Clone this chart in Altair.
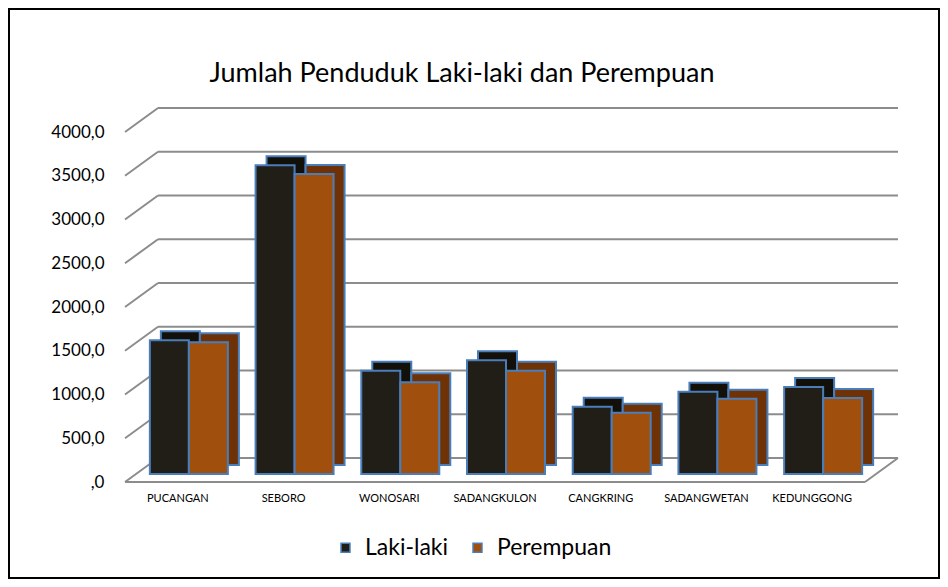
import altair as alt
import pandas as pd

categories = ["PUCANGAN", "SEBORO", "WONOSARI", "SADANGKULON", "CANGKRING", "SADANGWETAN", "KEDUNGGONG"]
laki = [1530, 3530, 1180, 1300, 770, 940, 995]
perempuan = [1505, 3430, 1050, 1180, 700, 860, 870]
series = ["Laki-laki", "Perempuan"]
y_ticks = [0, 500, 1000, 1500, 2000, 2500, 3000, 3500, 4000]
title_text = "Jumlah Penduduk Laki-laki dan Perempuan"

rows = []
for c, l, p in zip(categories, laki, perempuan):
    rows.append({"wilayah": c, "jenis": "Laki-laki", "jumlah": l})
    rows.append({"wilayah": c, "jenis": "Perempuan", "jumlah": p})
df = pd.DataFrame(rows)
grid = pd.DataFrame({"v": y_ticks})
floor = pd.DataFrame({"v": [0]})
title_df = pd.DataFrame({"t": [title_text]})

W, H = 740, 350
FONT = "Lato"
BLUE = "#4a7ebb"
GRID = "#8c8c8c"
front_colors = ["#201e16", "#a0500c"]
depth_colors = ["#121008", "#6e3206"]

yscale = alt.Scale(domain=[0, 4000], nice=False, zero=True)
xscale = alt.Scale(domain=categories, paddingInner=0.26, paddingOuter=0.13)

yaxis = alt.Axis(
    values=y_ticks, title=None, grid=False, domain=False, ticks=False,
    labelFont=FONT, labelFontSize=17, labelColor="#000000", labelPadding=32, labelOffset=8,
    labelExpr="datum.value == 0 ? ',0' : replace(format(datum.value, '.1f'), '.', ',')",
)
xaxis = alt.Axis(
    title=None, grid=False, domain=False, ticks=False, labelAngle=0,
    labelFont=FONT, labelFontSize=11, labelColor="#000000", labelPadding=18, labelOffset=-11,
)

back = alt.Chart(grid).mark_rule(color=GRID, strokeWidth=2, yOffset=-16).encode(
    y=alt.Y("v:Q", scale=yscale, axis=yaxis),
    x=alt.value(22), x2=alt.value(W + 22),
)
diag = alt.Chart(grid).mark_rule(color=GRID, strokeWidth=2, yOffset=8, y2Offset=-16).encode(
    y=alt.Y("v:Q", scale=yscale), y2="v:Q",
    x=alt.value(-11), x2=alt.value(22),
)
floor_front = alt.Chart(floor).mark_rule(color=GRID, strokeWidth=2, yOffset=8).encode(
    y=alt.Y("v:Q", scale=yscale),
    x=alt.value(-11), x2=alt.value(W - 11),
)
floor_right = alt.Chart(floor).mark_rule(color=GRID, strokeWidth=2, yOffset=8, y2Offset=-16).encode(
    y=alt.Y("v:Q", scale=yscale), y2="v:Q",
    x=alt.value(W - 11), x2=alt.value(W + 22),
)

BW = 39
DX, DY = 11, -9
offsets = {"Laki-laki": -BW / 2, "Perempuan": BW / 2}

layers = [back, diag, floor_front, floor_right]
for s, dc in zip(series, depth_colors):
    layers.append(
        alt.Chart(df).transform_filter(alt.datum.jenis == s).mark_bar(
            width=BW, xOffset=offsets[s] + DX, yOffset=DY, y2Offset=DY,
            fill=dc, stroke=BLUE, strokeWidth=2,
        ).encode(
            x=alt.X("wilayah:N", scale=xscale, sort=categories, axis=xaxis),
            y=alt.Y("jumlah:Q", scale=yscale),
        )
    )
for s in series:
    layers.append(
        alt.Chart(df).transform_filter(alt.datum.jenis == s).mark_bar(
            width=BW, xOffset=offsets[s], stroke=BLUE, strokeWidth=2,
        ).encode(
            x=alt.X("wilayah:N", scale=xscale, sort=categories, axis=xaxis),
            y=alt.Y("jumlah:Q", scale=yscale),
            color=alt.Color(
                "jenis:N",
                scale=alt.Scale(domain=series, range=front_colors),
                legend=alt.Legend(
                    title=None, orient="none", direction="horizontal",
                    legendX=198, legendY=412,
                    symbolType="square", symbolSize=80,
                    symbolStrokeColor=BLUE, symbolStrokeWidth=1.5,
                    labelFont=FONT, labelFontSize=23, labelColor="#000000",
                    labelOffset=8, columnPadding=17,
                ),
            ),
        )
    )

title = alt.Chart(title_df).mark_text(
    font=FONT, fontSize=27, color="#000000", align="center", baseline="middle",
).encode(text="t:N", x=alt.value(326), y=alt.value(-50))
layers.append(title)

frame = alt.Chart(floor).mark_rect(fill=None, stroke="#000000", strokeWidth=2).encode(
    x=alt.value(-127), x2=alt.value(W + 63), y=alt.value(-115), y2=alt.value(H + 104),
)
layers.append(frame)

chart = alt.layer(*layers).properties(
    width=W, height=H,
    autosize=alt.AutoSizeParams(type="none"),
    padding={"left": 128, "top": 116, "right": 64, "bottom": 105},
    background="#ffffff",
).configure_view(stroke=None)

chart.save("out.html", embed_options={"renderer": "svg", "actions": False})
